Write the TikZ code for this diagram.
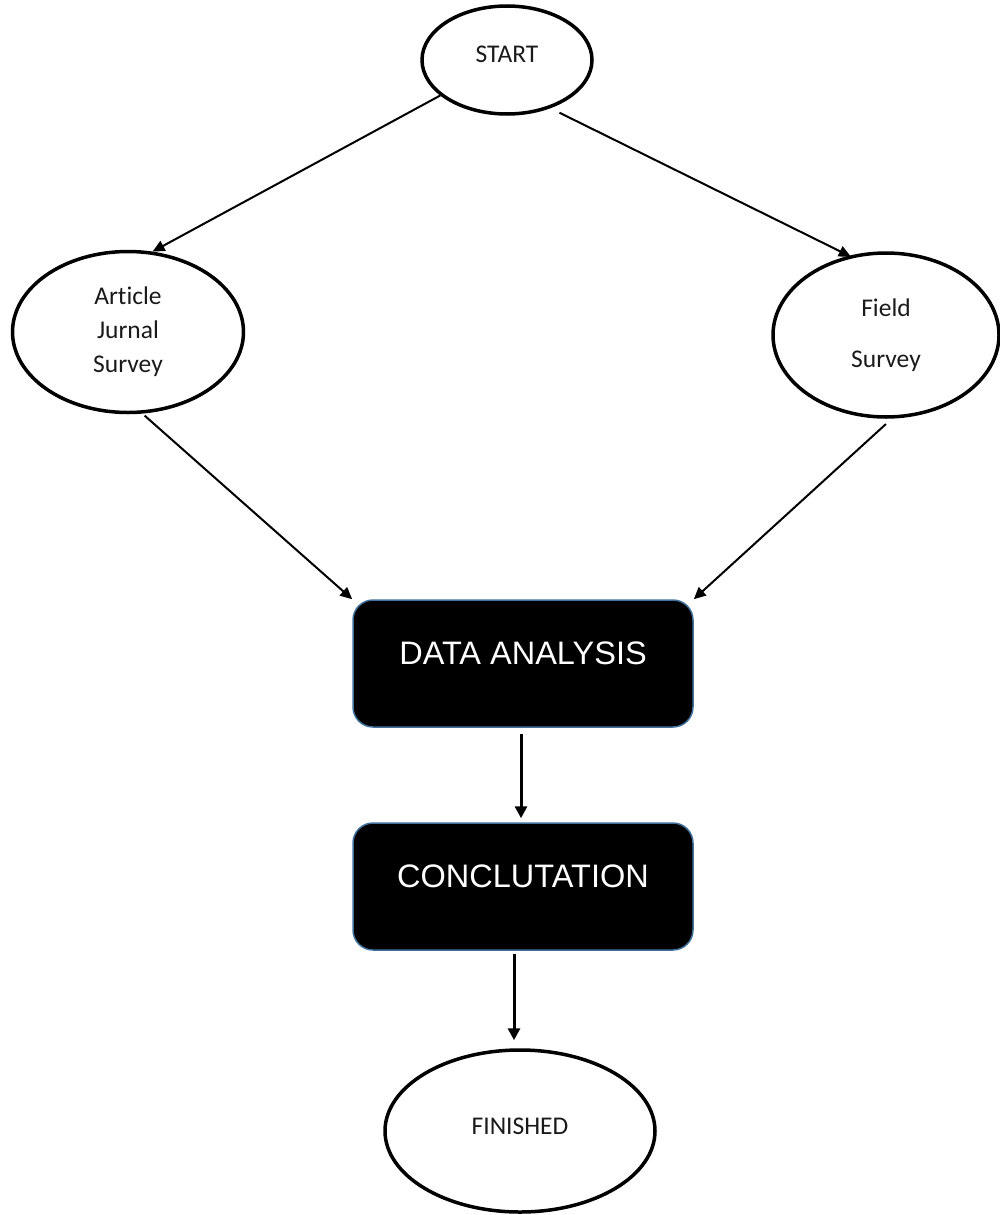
\documentclass[tikz,border=0pt]{standalone}
\usepackage{fontspec}
\setmainfont[Ligatures=NoCommon]{Carlito}
\newfontfamily\boxfont{Liberation Sans}
\usetikzlibrary{shapes.geometric,arrows.meta}
\definecolor{boxedge}{HTML}{41719C}
\definecolor{txt}{HTML}{1A1A1A}
\tikzset{
  oval/.style={ellipse, draw=black, line width=3.5pt, inner sep=0pt, align=center,
    text=txt, font=\fontsize{25.5}{34}\selectfont},
  blackbox/.style={rectangle, rounded corners=20pt, fill=black, draw=boxedge, line width=1.5pt,
    text=white, minimum width=340pt, minimum height=127pt, inner sep=0pt,
    font=\boxfont\fontsize{32.5}{36}\selectfont, text height=23pt, text depth=21pt},
  arr/.style={draw=black, line width=2pt, -{Triangle[length=12pt,width=11pt]}},
  varr/.style={draw=black, line width=3pt, -{Triangle[length=12pt,width=12pt]}}
}
\begin{document}
\begin{tikzpicture}[x=1pt,y=-1pt]
\useasboundingbox (0,0) rectangle (1000,1215);
\node[oval, minimum width=170pt, minimum height=108pt, text depth=11pt] (start) at (507,60) {START};
\node[oval, minimum width=231pt, minimum height=161pt] (art) at (128,332) {Article\\Jurnal\\Survey};
\node[oval, minimum width=226pt, minimum height=164pt] (field) at (886,335) {Field\\[17pt]Survey};
\node[blackbox] (data) at (523,663.5) {DATA ANALYSIS};
\node[blackbox] (concl) at (523,886.5) {CONCLUTATION};
\node[oval, minimum width=270pt, minimum height=162pt, text depth=10pt] (fin) at (520,1131) {FINISHED};
\draw[arr] (start.208.5) -- (art.73.6);
\draw[arr, shorten <=10pt, shorten >=-2pt] (start.312.8) -- (field.115.6);
\draw[arr, shorten <=3pt] (art.280) -- (data.north west);
\draw[arr, shorten <=8pt] (field.274.4) -- (data.north east);
\draw[varr, shorten <=6pt, shorten >=4pt] ([xshift=-2pt]data.south) -- ([xshift=-2pt]concl.north);
\draw[varr, shorten <=3pt, shorten >=8pt] ([xshift=-9pt]concl.south) -- ([xshift=-9pt]concl.south |- fin.north);
\end{tikzpicture}
\end{document}
